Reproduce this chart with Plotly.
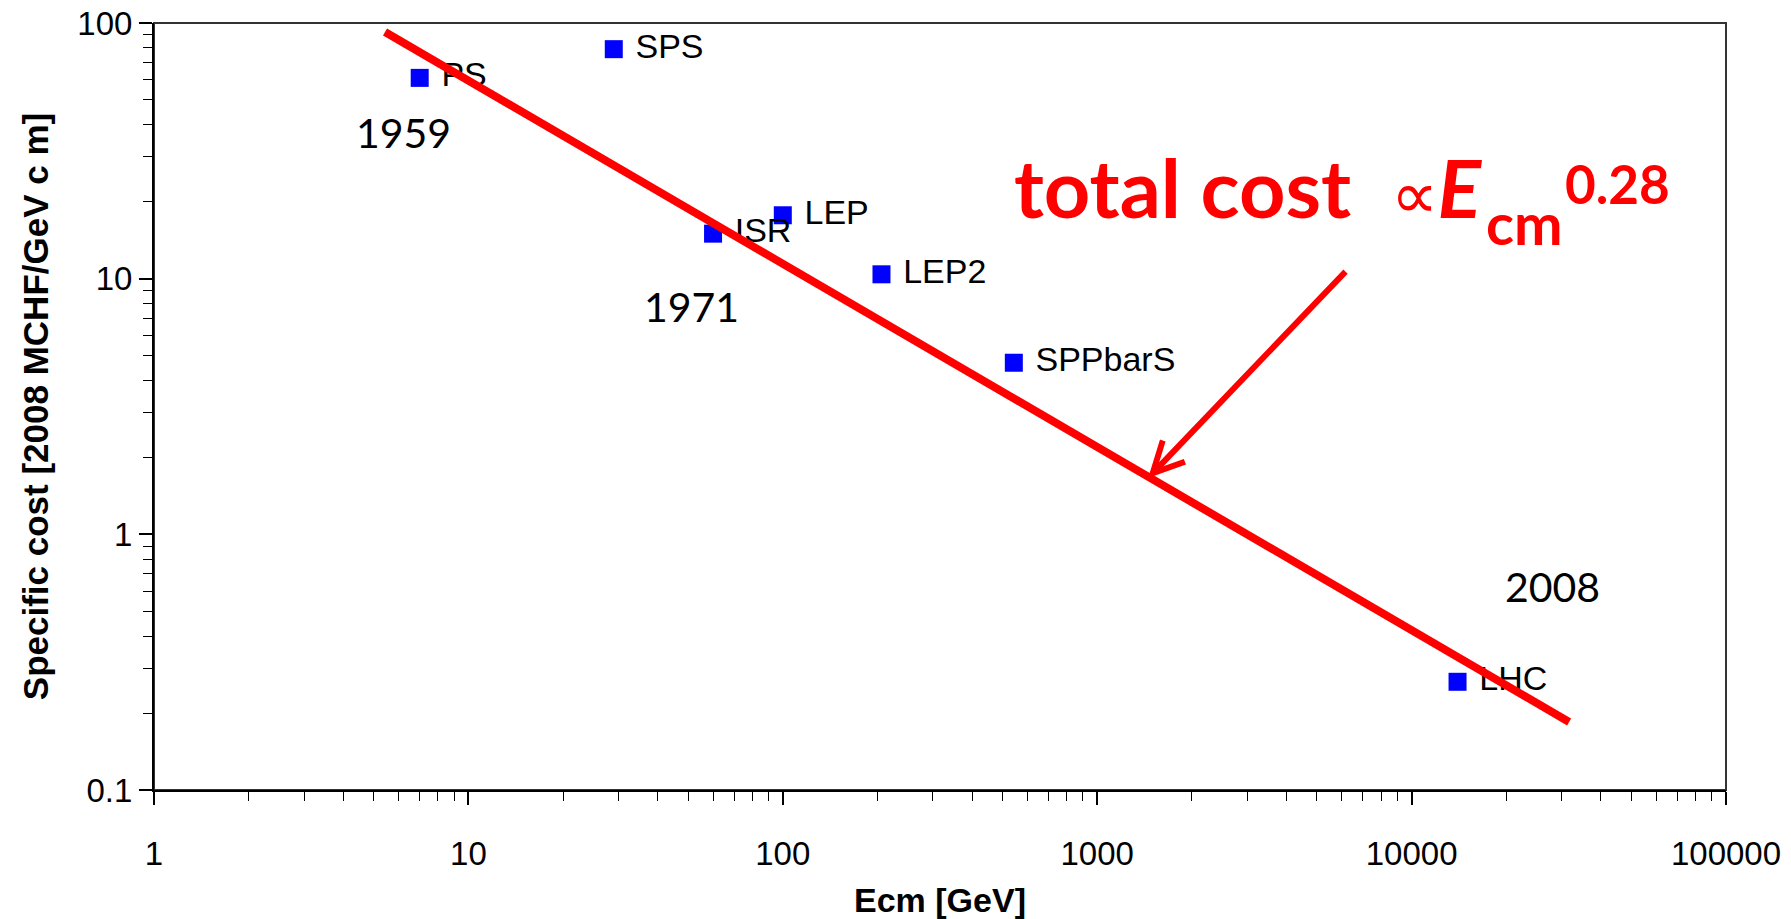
import math
import plotly.graph_objects as go

# Accelerators: centre-of-mass energy [GeV] and specific cost [2008 MCHF / GeV c m]
machines = ["PS", "SPS", "ISR", "LEP", "LEP2", "SPPbarS", "LHC"]
ecm_gev = [7, 29, 60, 100, 206, 543, 14000]
specific_cost = [61, 79, 15, 17.7, 10.4, 4.69, 0.265]

# Power-law trend line (end points)
trend_ecm = [5.43, 31700]
trend_cost = [92.2, 0.1845]

# Year markers written on the plot
year_labels = ["1959", "1971", "2008"]
year_ecm = [6.2, 51.4, 28000]
year_cost = [36.5, 7.65, 0.616]

# Arrow from the formula to the trend line
arrow_tail = (6230, 10.8)
arrow_tip = (1452, 1.66)

x_ticks = [1, 10, 100, 1000, 10000, 100000]
y_ticks = [0.1, 1, 10, 100]

RED = "#FF0000"
BLUE = "#0000FF"
AXIS_FONT = "Liberation Sans, Arial, sans-serif"
TEXT_FONT = "Lato, sans-serif"

fig = go.Figure()

fig.add_trace(go.Scatter(
    x=ecm_gev, y=specific_cost, text=machines,
    mode="markers+text", textposition="middle right",
    texttemplate=" %{text}",
    marker=dict(symbol="square", size=18, color=BLUE, line=dict(width=0)),
    textfont=dict(family=AXIS_FONT, size=34, color="black"),
    hoverinfo="skip", showlegend=False,
))

fig.add_trace(go.Scatter(
    x=trend_ecm, y=trend_cost, mode="lines",
    line=dict(color=RED, width=8),
    hoverinfo="skip", showlegend=False,
))

annotations = []
for label, xv, yv in zip(year_labels, year_ecm, year_cost):
    annotations.append(dict(
        x=math.log10(xv), y=math.log10(yv), xref="x", yref="y",
        text=label, showarrow=False, xanchor="center", yanchor="middle",
        yshift=2,
        font=dict(family=TEXT_FONT, size=41, color="black"),
    ))

W, H = 1791, 919
ML, MR, MT, MB = 154, 65, 23, 129
pw, ph = W - ML - MR, H - MT - MB


def paper_xy(px, py):
    """Pixel position on the page -> paper fractions."""
    return (px - ML) / pw, 1 - (py - MT) / ph


# Formula "total cost ∝ E_cm^0.28", built from three pieces
formula_parts = [
    # (text, left x px, centre y px, font size)
    ("<b>total cost&nbsp;&nbsp;</b><span style='font-size:66px'>∝</span><b><i>E</i></b>",
     1012, 186, 81),
    ("<b>cm</b>", 1484, 222, 58),
    ("<b>0.28</b>", 1563, 184, 53),
]
for text, px, py, size in formula_parts:
    fx, fy = paper_xy(px, py)
    annotations.append(dict(
        x=fx, y=fy, xref="paper", yref="paper", text=text,
        showarrow=False, xanchor="left", yanchor="middle",
        font=dict(family=TEXT_FONT, size=size, color=RED),
    ))

# Arrow
annotations.append(dict(
    x=math.log10(arrow_tip[0]), y=math.log10(arrow_tip[1]),
    ax=math.log10(arrow_tail[0]), ay=math.log10(arrow_tail[1]),
    xref="x", yref="y", axref="x", ayref="y",
    text="", showarrow=True, arrowhead=5, arrowsize=1.0,
    arrowwidth=6, arrowcolor=RED, standoff=0,
))

axis_common = dict(
    type="log",
    automargin=False,
    showgrid=False, zeroline=False,
    showline=True, linecolor="black", linewidth=2,
    ticks="outside", ticklen=13, tickwidth=1.5, tickcolor="black",
    tickfont=dict(family=AXIS_FONT, size=33, color="black"),
    minor=dict(ticks="outside", ticklen=9, tickwidth=1.2, tickcolor="black",
               dtick="D1", showgrid=False),
)

fig.update_layout(
    width=W, height=H,
    margin=dict(l=ML, r=MR, t=MT, b=MB, pad=0),
    paper_bgcolor="white", plot_bgcolor="white",
    annotations=annotations,
    xaxis=dict(
        axis_common, range=[0, 5], tickvals=x_ticks,
        ticktext=[str(v) for v in x_ticks],
        ticklabelstandoff=20,
        title=dict(text="<b>Ecm [GeV]</b>", standoff=31,
                   font=dict(family=AXIS_FONT, size=34, color="black")),
    ),
    yaxis=dict(
        axis_common, range=[-1, 2], tickvals=y_ticks,
        ticktext=["0.1", "1", "10", "100"],
        title=dict(text="<b>Specific cost [2008 MCHF/GeV c m]</b>", standoff=18,
                   font=dict(family=AXIS_FONT, size=35, color="black")),
    ),
    shapes=[dict(
        type="rect", xref="paper", yref="paper", x0=0, x1=1, y0=0, y1=1,
        line=dict(color="#333333", width=2), fillcolor="rgba(0,0,0,0)",
        layer="below",
    )],
)

fig.write_html("out.html")
